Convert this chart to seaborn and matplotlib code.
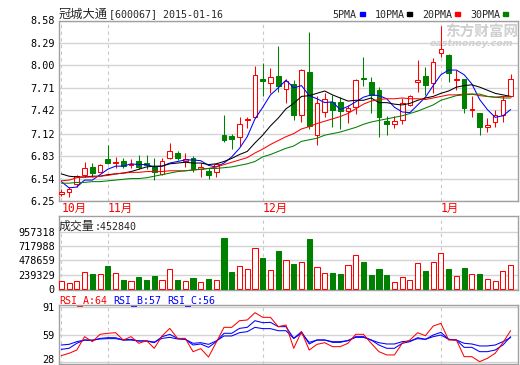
import numpy as np
import matplotlib
matplotlib.use("Agg")
import matplotlib.pyplot as plt
import matplotlib.transforms as mtransforms
import seaborn as sns
from matplotlib.patches import Rectangle

sns.set_style("white")
plt.rcParams["font.family"] = ["DejaVu Sans Mono", "Noto Sans CJK SC"]

# ---------------- data ----------------
opens = [6.34, 6.36, 6.47, 6.59, 6.69, 6.63, 6.79, 6.74, 6.76, 6.72,
         6.76, 6.74, 6.69, 6.60, 6.80, 6.87, 6.77, 6.80, 6.66, 6.64,
         6.62, 7.10, 7.09, 7.08, 7.30, 7.33, 7.82, 7.77, 7.86, 7.69,
         7.76, 7.36, 7.92, 7.10, 7.40, 7.53, 7.53, 7.41, 7.46, 7.84,
         7.78, 7.68, 7.28, 7.25, 7.30, 7.49, 7.79, 7.86, 7.77, 8.16,
         8.14, 7.81, 7.82, 7.42, 7.38, 7.21, 7.27, 7.36, 7.60]
closes = [6.36, 6.40, 6.57, 6.68, 6.61, 6.71, 6.74, 6.75, 6.70, 6.73,
          6.69, 6.71, 6.63, 6.76, 6.89, 6.81, 6.79, 6.66, 6.69, 6.58,
          6.73, 7.04, 7.05, 7.25, 7.31, 7.88, 7.80, 7.85, 7.73, 7.80,
          7.36, 7.94, 7.22, 7.51, 7.57, 7.43, 7.41, 7.45, 7.81, 7.83,
          7.62, 7.33, 7.24, 7.28, 7.51, 7.60, 7.81, 7.75, 8.04, 8.21,
          7.90, 7.82, 7.45, 7.43, 7.20, 7.23, 7.36, 7.55, 7.82]
highs = [6.40, 6.43, 6.59, 6.75, 6.74, 6.73, 6.97, 6.82, 6.81, 6.79,
         6.84, 6.84, 6.81, 6.80, 7.00, 6.89, 6.87, 6.83, 6.74, 6.67,
         6.74, 7.36, 7.12, 7.34, 7.34, 7.99, 8.03, 7.97, 8.25, 7.83,
         7.81, 7.95, 8.43, 7.60, 7.65, 7.62, 7.59, 7.49, 7.83, 8.11,
         7.85, 7.72, 7.35, 7.35, 7.58, 7.62, 8.07, 7.98, 8.09, 8.51,
         8.15, 7.94, 7.83, 7.60, 7.39, 7.32, 7.42, 7.60, 7.89]
lows = [6.31, 6.30, 6.43, 6.56, 6.56, 6.62, 6.73, 6.67, 6.67, 6.67,
        6.66, 6.66, 6.52, 6.59, 6.79, 6.78, 6.69, 6.63, 6.56, 6.53,
        6.56, 7.01, 6.92, 6.96, 7.19, 7.32, 7.61, 7.64, 7.66, 7.52,
        7.30, 7.27, 7.18, 6.97, 7.34, 7.20, 7.18, 7.26, 7.37, 7.73,
        7.38, 7.08, 7.10, 7.19, 7.25, 7.47, 7.66, 7.62, 7.64, 8.11,
        7.78, 7.68, 7.39, 7.34, 7.10, 7.14, 7.21, 7.27, 7.59]
volume = [134000, 95000, 134000, 278000, 250000, 250000, 384000, 267000, 150000, 134000,
          200000, 156000, 217000, 150000, 328000, 150000, 134000, 184000, 117000, 167000,
          150000, 852000, 284000, 378000, 334000, 679000, 518000, 312000, 635000, 479000,
          417000, 445000, 835000, 362000, 267000, 267000, 250000, 395000, 562000, 451000,
          234000, 334000, 234000, 117000, 195000, 150000, 429000, 301000, 445000, 596000,
          334000, 212000, 351000, 250000, 250000, 161000, 134000, 295000, 400000]
ma5 = [6.50, 6.42, 6.43, 6.52, 6.52, 6.59, 6.66, 6.70, 6.70, 6.73,
       6.72, 6.72, 6.69, 6.70, 6.74, 6.76, 6.78, 6.78, 6.77, 6.71,
       6.69, 6.74, 6.82, 6.93, 7.08, 7.31, 7.46, 7.62, 7.71, 7.81,
       7.71, 7.74, 7.61, 7.57, 7.52, 7.53, 7.43, 7.47, 7.53, 7.59,
       7.62, 7.61, 7.57, 7.46, 7.40, 7.39, 7.49, 7.59, 7.74, 7.88,
       7.94, 7.94, 7.88, 7.76, 7.56, 7.43, 7.33, 7.35, 7.43]
ma10 = [6.60, 6.57, 6.56, 6.56, 6.57, 6.57, 6.59, 6.60, 6.61, 6.63,
        6.66, 6.69, 6.70, 6.70, 6.73, 6.74, 6.75, 6.74, 6.74, 6.72,
        6.73, 6.76, 6.80, 6.85, 6.89, 7.00, 7.10, 7.22, 7.32, 7.44,
        7.51, 7.60, 7.61, 7.64, 7.67, 7.62, 7.58, 7.54, 7.55, 7.55,
        7.58, 7.52, 7.52, 7.50, 7.49, 7.51, 7.55, 7.58, 7.60, 7.64,
        7.67, 7.72, 7.74, 7.75, 7.72, 7.68, 7.64, 7.62, 7.60]
ma20 = [6.51, 6.52, 6.55, 6.56, 6.56, 6.57, 6.58, 6.60, 6.61, 6.62,
        6.62, 6.63, 6.63, 6.63, 6.64, 6.64, 6.64, 6.65, 6.66, 6.67,
        6.69, 6.72, 6.75, 6.78, 6.81, 6.87, 6.92, 6.98, 7.03, 7.08,
        7.12, 7.18, 7.21, 7.25, 7.28, 7.31, 7.34, 7.38, 7.44, 7.50,
        7.54, 7.56, 7.57, 7.57, 7.58, 7.57, 7.57, 7.56, 7.58, 7.60,
        7.62, 7.62, 7.63, 7.63, 7.61, 7.60, 7.59, 7.60, 7.60]
ma30 = [6.48, 6.48, 6.49, 6.49, 6.50, 6.50, 6.51, 6.52, 6.53, 6.54,
        6.54, 6.55, 6.57, 6.59, 6.61, 6.63, 6.64, 6.65, 6.66, 6.67,
        6.67, 6.68, 6.69, 6.71, 6.73, 6.76, 6.82, 6.85, 6.89, 6.93,
        6.96, 7.02, 7.04, 7.06, 7.10, 7.12, 7.14, 7.17, 7.20, 7.24,
        7.27, 7.29, 7.31, 7.33, 7.35, 7.38, 7.41, 7.45, 7.49, 7.55,
        7.58, 7.61, 7.62, 7.63, 7.63, 7.60, 7.59, 7.58, 7.58]
rsi_a = [35.0, 37.7, 41.5, 57.0, 51.2, 59.7, 60.9, 61.6, 53.1, 57.0,
         49.3, 52.4, 43.5, 57.8, 66.6, 55.0, 55.0, 39.6, 43.1, 33.4,
         50.4, 67.8, 67.8, 75.5, 76.3, 84.8, 79.4, 79.4, 68.6, 70.5,
         43.5, 62.8, 41.5, 48.1, 50.0, 45.4, 45.4, 49.3, 59.7, 59.7,
         49.3, 39.6, 35.8, 35.8, 49.3, 53.1, 61.6, 58.1, 69.3, 72.4,
         53.1, 53.1, 33.8, 33.8, 28.0, 31.9, 37.7, 50.0, 64.0]
rsi_b = [42.3, 43.5, 49.3, 53.1, 52.4, 55.0, 55.8, 55.8, 53.1, 53.9,
         52.0, 52.0, 50.0, 57.0, 59.7, 55.0, 53.9, 47.3, 48.5, 44.6,
         51.2, 60.9, 60.9, 66.6, 67.8, 75.5, 73.2, 73.6, 68.6, 68.6,
         55.0, 62.8, 48.5, 53.1, 53.1, 50.4, 50.4, 52.4, 57.0, 57.0,
         53.1, 47.3, 43.5, 43.5, 49.3, 51.2, 55.8, 53.9, 58.9, 62.0,
         53.9, 53.1, 44.6, 44.6, 39.6, 39.6, 41.5, 47.3, 57.0]
rsi_c = [47.3, 48.1, 51.2, 53.1, 53.1, 54.3, 54.7, 54.7, 53.1, 53.1,
         52.0, 52.0, 50.8, 55.0, 56.2, 54.3, 53.9, 49.3, 50.0, 48.1,
         52.0, 57.8, 57.8, 61.6, 62.8, 67.8, 66.3, 66.3, 63.9, 63.9,
         55.0, 60.9, 50.4, 53.1, 53.1, 51.2, 51.2, 52.4, 56.2, 56.2,
         53.1, 50.0, 48.5, 48.5, 51.2, 52.0, 54.7, 53.9, 57.0, 58.9,
         53.9, 53.1, 49.3, 48.5, 46.2, 46.2, 47.3, 51.2, 56.0]
price_ticks = [8.58, 8.29, 8.00, 7.71, 7.42, 7.12, 6.83, 6.54, 6.25]
vol_ticks = [957318, 717988, 478659, 239329, 0]
rsi_ticks = [91, 59, 28]
month_labels = ["10月", "11月", "12月", "1月"]
month_idx = [0, 6, 26, 49]
title_name = "冠城大通"
title_code = "[600067] 2015-01-16"
legend_names = ["5PMA", "10PMA", "20PMA", "30PMA"]
vol_name = "成交量"
vol_last = ":452840"
rsi_names = ["RSI_A:64", "RSI_B:57", "RSI_C:56"]

# ---------------- styling ----------------
RED, GREEN, BLUE, BLACK = "#ff0000", "#008000", "#0000ff", "#000000"
FRAME, GRID = "#a0a0a0", "#d4d4d4"
W, H = 520, 365
fig = plt.figure(figsize=(W / 100, H / 100), dpi=100)
fig.patch.set_facecolor("white")


def box(left, top, right, bottom):
    return [left / W, 1 - bottom / H, (right - left) / W, (bottom - top) / H]


ax1 = fig.add_axes(box(59, 20.5, 518, 201))
ax2 = fig.add_axes(box(59, 216, 518, 290))
ax3 = fig.add_axes(box(59, 305, 518, 364))

n = len(closes)
x = np.arange(n)
o = np.array(opens); c = np.array(closes)
hi = np.array(highs); lo = np.array(lows)
up = c >= o
cols = np.where(up, RED, GREEN)
fills = np.where(up, "white", GREEN)
XL = (-0.3, n - 0.05)
LW = 0.75

for ax in (ax1, ax2, ax3):
    ax.set_xlim(*XL)
    ax.set_xticks([])
    for s in ax.spines.values():
        s.set_color(FRAME)
        s.set_linewidth(1)
    ax.tick_params(axis="y", length=0, pad=3, labelsize=7.3, labelcolor="black")
    for m in month_idx:
        ax.axvline(m, color="#c8c8c8", lw=0.8, ls=(0, (3, 3)), zorder=0)

# main panel
ax1.set_ylim(6.25, 8.58)
ax1.set_yticks(price_ticks)
ax1.set_yticklabels([f"{v:.2f}" for v in price_ticks])
ax1.grid(axis="y", color=GRID, lw=1)
ax1.vlines(x, lo, hi, color=cols, lw=LW, zorder=3)
body_b = np.minimum(o, c)
body_h = np.maximum(np.abs(c - o), 0.012)
ax1.bar(x, body_h, bottom=body_b, width=0.6, color=fills, edgecolor=cols,
        linewidth=LW, zorder=4)
for vals, colr in ((ma5, BLUE), (ma10, BLACK), (ma20, RED), (ma30, GREEN)):
    sns.lineplot(x=x, y=vals, ax=ax1, color=colr, lw=LW, zorder=5)

# volume panel
ax2.set_ylim(-16649, 1215378)
ax2.set_yticks(vol_ticks)
ax2.set_yticklabels([str(v) for v in vol_ticks])
ax2.grid(axis="y", color=GRID, lw=1)
ax2.bar(x, volume, width=0.66, color=fills, edgecolor=cols, linewidth=LW, zorder=3)

# RSI panel
ax3.set_ylim(25.3, 93.7)
ax3.set_yticks(rsi_ticks)
ax3.set_yticklabels([str(v) for v in rsi_ticks])
ax3.grid(axis="y", color=GRID, lw=1)
sns.lineplot(x=x, y=rsi_c, ax=ax3, color=BLUE, lw=LW, zorder=3)
sns.lineplot(x=x, y=rsi_b, ax=ax3, color=BLUE, lw=LW, zorder=4)
sns.lineplot(x=x, y=rsi_a, ax=ax3, color=RED, lw=LW, zorder=5)
for lbl in ax3.get_yticklabels():
    if lbl.get_text() == "28":
        lbl.set_transform(lbl.get_transform() +
                          mtransforms.ScaledTranslation(0, 2.5 / 100, fig.dpi_scale_trans))

for ax in (ax1, ax2, ax3):
    ax.set_xlabel("")
    ax.set_ylabel("")

# texts
def T(px, py, s, **kw):
    fig.text(px / W, 1 - py / H, s, va="center", ha="left", **kw)

cjk = ["Noto Sans CJK SC", "DejaVu Sans"]
T(59, 14, title_name, fontsize=8.8, family=cjk)
T(109, 14.5, title_code, fontsize=7.2)
lx = [332, 375, 422, 470]
sq = [360, 407, 455, 503]
for name, px, sx, colr in zip(legend_names, lx, sq, (BLUE, BLACK, RED, GREEN)):
    T(px, 14.5, name, fontsize=7.2)
    fig.patches.append(Rectangle((sx / W, 1 - 16 / H), 5 / W, 3.5 / H,
                                 transform=fig.transFigure, color=colr))

for lbl, m in zip(month_labels, month_idx):
    xpx = 59 + (m - XL[0]) / (XL[1] - XL[0]) * (518 - 59)
    T(xpx, 208, lbl, fontsize=8.3, color=RED, family=["DejaVu Sans Mono", "Noto Sans CJK SC"])

T(59, 226.5, vol_name, fontsize=8.6, family=cjk)
T(95, 227, vol_last, fontsize=7.2)
for name, px, colr in zip(rsi_names, (59, 113, 167), (RED, BLUE, BLUE)):
    T(px, 300.5, name, fontsize=7.2, color=colr)

# watermark
T(445, 32, "东方财富网", fontsize=10.5, color="#cfcfcf", weight="bold", family=cjk)
T(430, 44, "eastmoney.com", fontsize=6.8, color="#cfcfcf", weight="bold",
  style="italic", family=["DejaVu Sans"])

fig.savefig("out.png", dpi=100)
